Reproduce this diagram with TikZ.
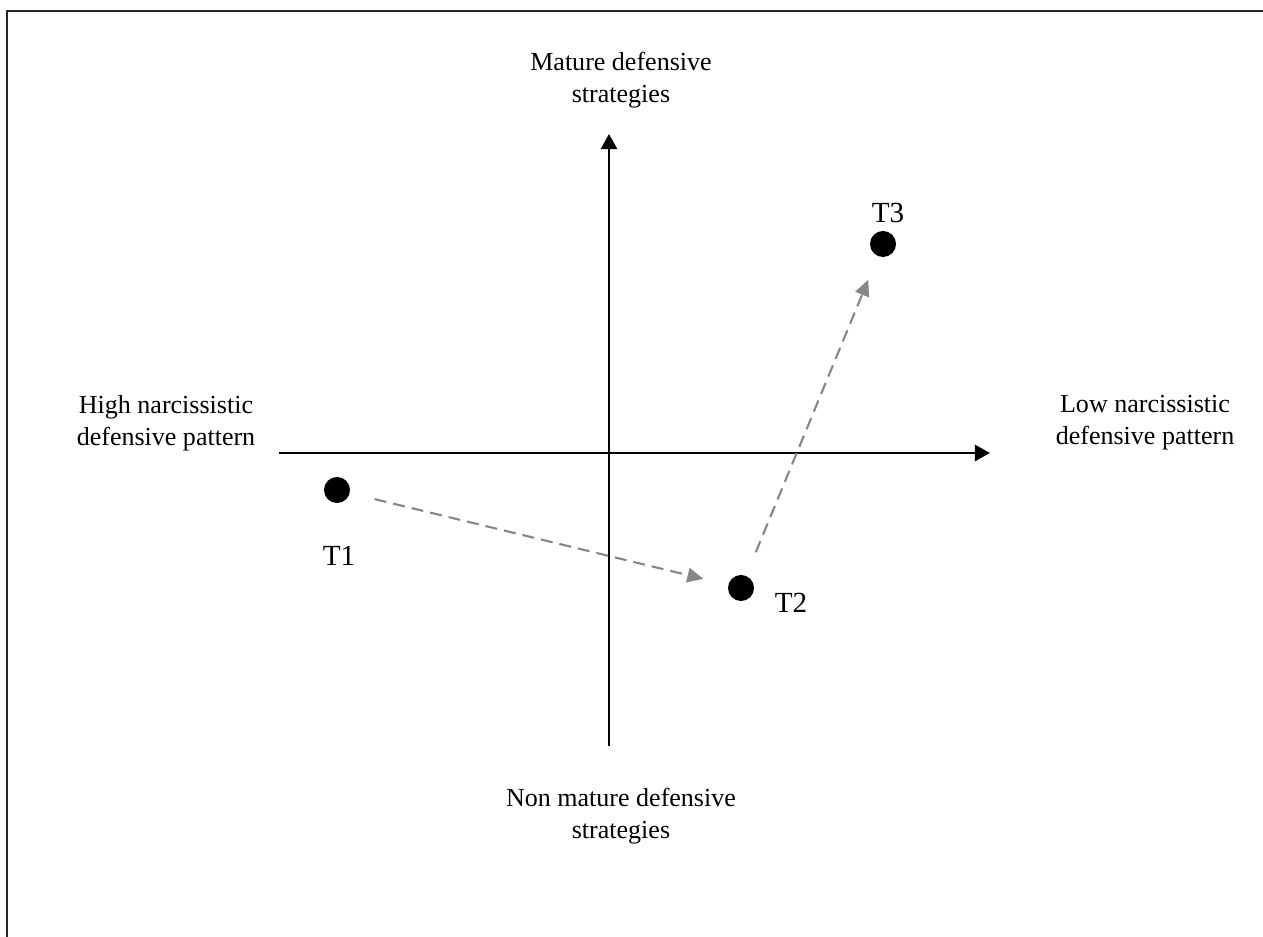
\documentclass[tikz,border=0pt]{standalone}
\usepackage{fontspec}
\setmainfont{Liberation Serif}
\usetikzlibrary{arrows.meta}
\begin{document}
\begin{tikzpicture}[x=0.01cm,y=-0.01cm,
  axisline/.style={line width=0.65pt,-{Triangle[length=1.5mm,width=1.6mm]}},
  moveline/.style={draw=gray!95,line width=0.6pt,dash pattern=on 1.2mm off 0.7mm,
    -{Triangle[length=1.6mm,width=1.45mm]},shorten <=0.25cm,shorten >=0.25cm},
  dot/.style={circle,fill=black,inner sep=0pt,minimum size=2.6mm},
  axislabel/.style={align=center,inner sep=0pt,font=\fontsize{7.4pt}{9.1pt}\selectfont},
  tlabel/.style={inner sep=0pt,anchor=base,font=\fontsize{8.3pt}{10pt}\selectfont}]
\useasboundingbox (0,0) rectangle (1263,937);
% frame (only top and left edges fall inside the picture)
\draw[line width=0.6pt,black!85] (7,950) -- (7,11) -- (1280,11);
% axes
\coordinate (vbot) at (609,746);
\coordinate (vtop) at (609,134);
\coordinate (hleft) at (279,453);
\coordinate (hright) at (990,453);
\draw[axisline] (vbot) -- (vtop);
\draw[axisline] (hleft) -- (hright);
% axis labels
\node[axislabel] (mature) at (621,80) {Mature defensive\\strategies};
\node[axislabel] (nonmature) at (621,816) {Non mature defensive\\strategies};
\node[axislabel] (high) at (166,423) {High narcissistic\\defensive pattern};
\node[axislabel] (low) at (1145,423) {Low narcissistic\\defensive pattern};
% points
\node[dot] (t1) at (337,490) {};
\node[dot] (t2) at (741,588) {};
\node[dot] (t3) at (883,244) {};
\node[tlabel] (t1lab) at (339,566) {T1};
\node[tlabel] (t2lab) at (791,613) {T2};
\node[tlabel] (t3lab) at (888,223) {T3};
% movements
\draw[moveline] (t1) -- (t2);
\draw[moveline] (t2) -- (t3);
\end{tikzpicture}
\end{document}
